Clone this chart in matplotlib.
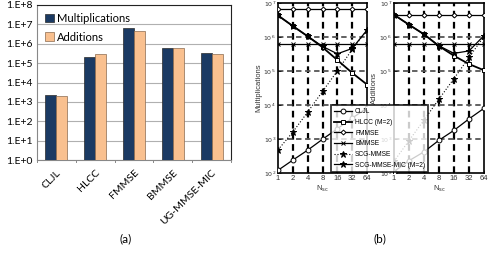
import numpy as np
import matplotlib
matplotlib.use("Agg")
import matplotlib.pyplot as plt
from matplotlib.lines import Line2D

# ---- Panel (a) data ----
algos = ["CLJL", "HLCC", "FMMSE", "BMMSE", "UG-MMSE-MIC"]
mults_a = [2.2e3, 2.1e5, 6.6e6, 6.4e5, 3.2e5]
adds_a = [2.0e3, 2.8e5, 4.4e6, 6.3e5, 3.1e5]
yticks_a = [1e0, 1e1, 1e2, 1e3, 1e4, 1e5, 1e6, 1e7, 1e8]
yticklabels_a = ["1.E+0", "1.E+1", "1.E+2", "1.E+3", "1.E+4", "1.E+5", "1.E+6", "1.E+7", "1.E+8"]

# ---- Panel (b) data ----
nsc = [1, 2, 4, 8, 16, 32, 64]
series_names = ["CLJL", "HLCC (M=2)", "FMMSE", "BMMSE", "SCG-MMSE", "SCG-MMSE-MIC (M=2)"]
mult_b = {
    "CLJL": [120, 240, 470, 980, 2.0e3, 4.1e3, 8.2e3],
    "HLCC (M=2)": [4.3e6, 2.1e6, 1.05e6, 5.0e5, 2.1e5, 8.8e4, 4.0e4],
    "FMMSE": [6.6e6] * 7,
    "BMMSE": [6.3e5] * 7,
    "SCG-MMSE": [480, 1.6e3, 6.2e3, 2.5e4, 1.0e5, 4.3e5, 1.6e6],
    "SCG-MMSE-MIC (M=2)": [4.3e6, 2.1e6, 1.05e6, 5.3e5, 3.2e5, 4.6e5, 1.6e6],
}
add_b = {
    "CLJL": [110, 230, 420, 920, 1.8e3, 3.9e3, 8.0e3],
    "HLCC (M=2)": [4.5e6, 2.3e6, 1.2e6, 5.4e5, 2.8e5, 1.6e5, 1.05e5],
    "FMMSE": [4.5e6] * 7,
    "BMMSE": [6.4e5] * 7,
    "SCG-MMSE": [220, 900, 3.6e3, 1.5e4, 6.0e4, 2.5e5, 1.05e6],
    "SCG-MMSE-MIC (M=2)": [4.5e6, 2.3e6, 1.2e6, 5.5e5, 3.3e5, 3.9e5, 1.1e6],
}
styles = {
    "CLJL": dict(marker="o", ls="-", mfc="white", ms=3.5, lw=0.9),
    "HLCC (M=2)": dict(marker="s", ls="-", mfc="white", ms=3.5, lw=1.3),
    "FMMSE": dict(marker="D", ls="-", mfc="white", ms=2.5, lw=0.9),
    "BMMSE": dict(marker="x", ls="-", mfc="black", ms=2.5, lw=0.9),
    "SCG-MMSE": dict(marker="*", ls=":", mfc="black", ms=5, lw=0.8),
    "SCG-MMSE-MIC (M=2)": dict(marker="*", ls="-", mfc="black", ms=5, lw=0.9),
}

W, H = 494, 256
fig = plt.figure(figsize=(W / 100, H / 100), dpi=100)

# ================= Panel (a) =================
fa = "Lato"
axa = fig.add_axes([37 / W, 1 - 160 / H, 194 / W, 155 / H])
x = np.arange(len(algos))
bw = 0.285
axa.bar(x - bw / 2, mults_a, bw, bottom=1, color="#1b3a63", edgecolor="#2a2a2a", lw=0.5,
        label="Multiplications", zorder=3)
axa.bar(x + bw / 2, adds_a, bw, bottom=1, color="#f9c08f", edgecolor="#8a6a50", lw=0.5,
        label="Additions", zorder=3)
axa.set_yscale("log")
axa.set_ylim(1, 1e8)
axa.set_xlim(-0.5, len(algos) - 0.5)
axa.set_yticks(yticks_a)
axa.set_yticklabels(yticklabels_a, fontsize=7.5, family=fa)
axa.yaxis.set_minor_locator(matplotlib.ticker.NullLocator())
axa.tick_params(axis="y", length=0, pad=3)
axa.set_xticks(x)
axa.set_xticklabels(algos, rotation=45, ha="right", va="top", rotation_mode="anchor",
                    fontsize=7.5, family=fa)
axa.tick_params(axis="x", length=0, pad=6)
for b in np.arange(-0.5, len(algos), 1.0):
    axa.plot([b, b], [1, 0.75], color="#888888", lw=0.7, clip_on=False, zorder=4)
axa.grid(axis="y", color="#b0b0b0", lw=0.8, zorder=0)
for s in axa.spines.values():
    s.set_color("#222222")
    s.set_linewidth(0.8)
axa.spines["bottom"].set_color("#888888")
axa.spines["left"].set_color("#888888")
leg = axa.legend(loc="upper left", fontsize=7.5, frameon=False, handlelength=0.8,
                 handleheight=0.8, handletextpad=0.3, borderaxespad=0.3, labelspacing=0.7,
                 prop={"family": fa, "size": 8})
fig.text(126 / W, 1 - 239 / H, "(a)", ha="center", va="center", fontsize=8.5, family=fa)

# ================= Panel (b) =================
fb = "Liberation Sans"

def make_b(rect, data, ylabel):
    ax = fig.add_axes(rect)
    for name in series_names:
        st = styles[name]
        ax.plot(nsc, data[name], color="black", label=name, mec="black", mew=0.7,
                zorder=3, **st)
    ax.set_xscale("log", base=2)
    ax.set_yscale("log")
    ax.set_xlim(1, 64)
    ax.set_ylim(1e2, 1e7)
    ax.set_xticks(nsc)
    ax.set_xticklabels([str(v) for v in nsc], fontsize=5.5, family=fb, color="#333333")
    ax.xaxis.set_minor_locator(matplotlib.ticker.NullLocator())
    ax.yaxis.set_minor_locator(matplotlib.ticker.NullLocator())
    ax.set_yticks([1e2, 1e3, 1e4, 1e5, 1e6, 1e7])
    ax.set_yticklabels([r"$10^{%d}$" % k for k in range(2, 8)], fontsize=4.5, color="#333333")
    ax.tick_params(length=2, width=0.5, pad=1.5, direction="in")
    for v in nsc[1:-1]:
        ax.axvline(v, color="black", ls=(0, (3, 2)), lw=1.6, zorder=1)
    for k in range(3, 7):
        ax.axhline(10.0 ** k, color="#555555", ls=(0, (3, 2)), lw=1.3, zorder=1)
    for s in ax.spines.values():
        s.set_linewidth(1.2)
    ax.set_xlabel(r"N$_{\rm sc}$", fontsize=5.5, family=fb, color="#333333", labelpad=1)
    ax.set_ylabel(ylabel, fontsize=5.5, family=fb, color="#333333", labelpad=1)
    return ax

axb1 = make_b([278 / W, 1 - 173 / H, 89 / W, 170 / H], mult_b, "Multiplications")
axb2 = make_b([394 / W, 1 - 173 / H, 90 / W, 170 / H], add_b, "Additions")

handles = [Line2D([], [], color="black", mec="black", mew=0.7, **styles[n]) for n in series_names]
lg = fig.legend(handles, series_names, loc="lower left",
                bbox_to_anchor=(331 / W, 1 - 172 / H), ncol=1,
                prop={"family": fb, "size": 4.8}, frameon=True, fancybox=False,
                handlelength=2.6, handletextpad=0.5, labelspacing=0.55, borderpad=0.5,
                borderaxespad=0)
lg.get_frame().set_edgecolor("black")
lg.get_frame().set_linewidth(1.3)
lg.set_zorder(10)
fig.text(380 / W, 1 - 239 / H, "(b)", ha="center", va="center", fontsize=8.5, family=fa)

fig.savefig("out.png", dpi=100)
